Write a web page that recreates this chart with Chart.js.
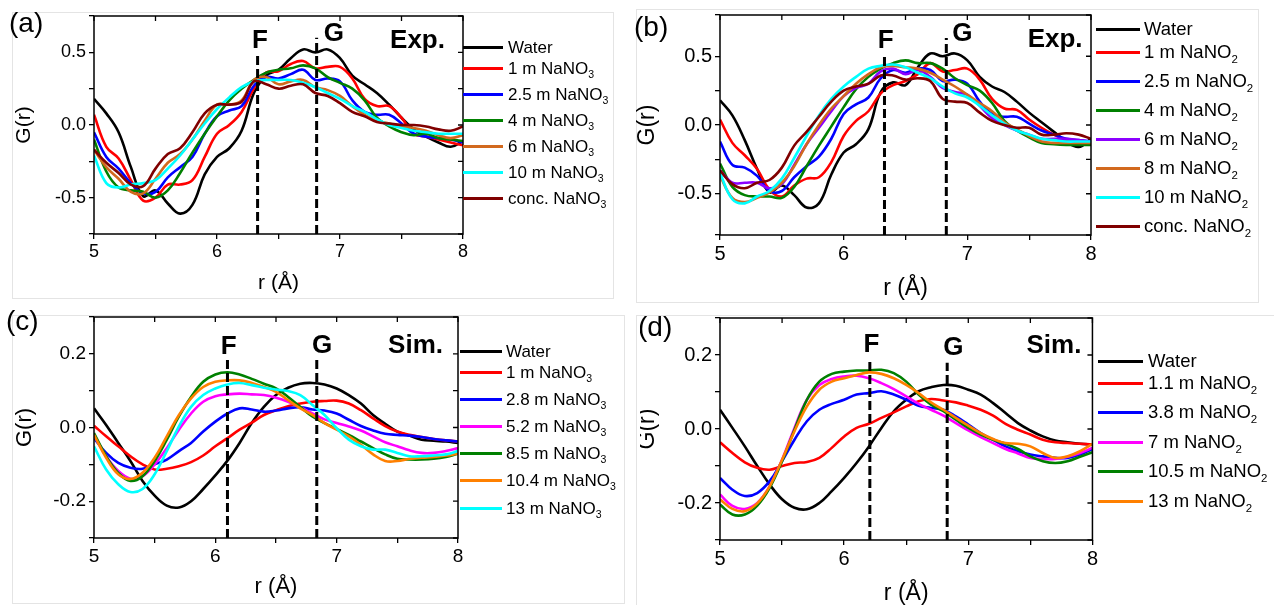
<!DOCTYPE html>
<html>
<head>
<meta charset="utf-8">
<script src="https://cdn.jsdelivr.net/npm/chart.js@4.4.1/dist/chart.umd.min.js"></script>
<style>
  body { margin: 0; background: #fff; width: 1274px; height: 605px; overflow: hidden; position: relative;
         font-family: "Liberation Sans", Arial, sans-serif; }
  .frame { position: absolute; border: 1px solid #e4e4e4; }
  .tag { position: absolute; font-size: 28px; line-height: 28px; color: #000; }
  .row { position: absolute; white-space: nowrap; color: #000; }
  .row .ln { position: absolute; left: 0; height: 3px; }
  .row .tx { position: absolute; top: 0; }
  sub { font-size: 0.62em; line-height: 0; vertical-align: -0.42em; }
  canvas { position: absolute; }
</style>
</head>
<body>
<div class="frame" style="left:12px;top:12px;width:600px;height:285px"></div>
<div class="frame" style="left:636px;top:9px;width:621px;height:292px"></div>
<div class="frame" style="left:12px;top:315px;width:611px;height:287px"></div>
<div class="frame" style="left:636px;top:315px;width:640px;height:292px"></div>

<canvas id="ca" width="480" height="300" style="left:0;top:0"></canvas>
<canvas id="cb" width="470" height="305" style="left:630px;top:0"></canvas>
<canvas id="cc" width="470" height="305" style="left:0;top:300px"></canvas>
<div style="position:absolute;left:640px;top:300px;width:460px;height:305px;overflow:hidden">
  <canvas id="cd" width="472" height="310" style="left:-12px;top:0"></canvas>
  <div class="tag" style="left:-2px;top:13px">(d)</div>
</div>

<div class="tag" style="left:9px;top:9px">(a)</div>
<div class="tag" style="left:634px;top:13px">(b)</div>
<div class="tag" style="left:6px;top:307px">(c)</div>

<script>
const FONT = '"Liberation Sans", Arial, sans-serif';
Chart.defaults.font.family = FONT;

// r values (Å), shared by every curve
const rGrid = [5.0, 5.1, 5.2, 5.3, 5.4, 5.5, 5.6, 5.7, 5.8, 5.9, 6.0, 6.1, 6.2, 6.3, 6.4, 6.5,
               6.6, 6.7, 6.8, 6.9, 7.0, 7.1, 7.2, 7.3, 7.4, 7.5, 7.6, 7.7, 7.8, 7.9, 8.0];

// (a) Exp. NaNO3
const aNames = ["Water", "1 m NaNO3", "2.5 m NaNO3", "4 m NaNO3", "6 m NaNO3", "10 m NaNO3", "conc. NaNO3"];
const aWater = [0.18, 0.08, -0.05, -0.29, -0.49, -0.45, -0.54, -0.61, -0.55, -0.34, -0.22, -0.16, -0.04, 0.22, 0.34, 0.38, 0.46, 0.52, 0.5, 0.52, 0.46, 0.34, 0.28, 0.22, 0.14, 0.05, -0.03, -0.08, -0.12, -0.15, -0.11];
const a1 = [0.07, -0.15, -0.23, -0.38, -0.52, -0.5, -0.41, -0.41, -0.38, -0.22, -0.06, 0.0, 0.09, 0.25, 0.36, 0.37, 0.42, 0.44, 0.39, 0.4, 0.4, 0.32, 0.18, 0.13, 0.13, 0.05, -0.06, -0.08, -0.1, -0.12, -0.14];
const a25 = [-0.05, -0.22, -0.3, -0.4, -0.47, -0.46, -0.36, -0.29, -0.22, -0.06, 0.06, 0.1, 0.13, 0.27, 0.33, 0.32, 0.35, 0.38, 0.31, 0.32, 0.3, 0.17, 0.09, 0.07, 0.07, 0.01, -0.06, -0.08, -0.09, -0.1, -0.12];
const a4 = [-0.1, -0.32, -0.43, -0.45, -0.46, -0.5, -0.45, -0.33, -0.19, -0.06, 0.06, 0.17, 0.25, 0.31, 0.36, 0.38, 0.39, 0.41, 0.39, 0.33, 0.29, 0.25, 0.17, 0.05, -0.01, -0.05, -0.07, -0.06, -0.09, -0.1, -0.11];
const a6 = [-0.17, -0.29, -0.37, -0.46, -0.47, -0.37, -0.26, -0.2, -0.1, 0.03, 0.14, 0.14, 0.17, 0.31, 0.33, 0.28, 0.3, 0.31, 0.26, 0.24, 0.2, 0.13, 0.07, 0.03, 0.01, -0.01, -0.02, -0.04, -0.07, -0.09, -0.07];
const a10 = [-0.21, -0.4, -0.43, -0.41, -0.4, -0.38, -0.3, -0.21, -0.1, 0.01, 0.11, 0.19, 0.26, 0.3, 0.31, 0.31, 0.31, 0.29, 0.26, 0.22, 0.18, 0.13, 0.09, 0.04, 0.0, -0.02, -0.04, -0.05, -0.06, -0.06, -0.06];
const aConc = [-0.17, -0.26, -0.33, -0.41, -0.42, -0.3, -0.2, -0.16, -0.05, 0.08, 0.14, 0.14, 0.16, 0.3, 0.28, 0.25, 0.27, 0.28, 0.22, 0.2, 0.15, 0.09, 0.06, 0.02, 0.01, 0.0, 0.0, -0.01, -0.03, -0.04, -0.01];
const aMarkR = [6.33, 6.81];
const aMarkTop = [0.494, 0.6];
const aTexts = ["F", "G", "Exp."];
const aTextR = [6.35, 6.95, 7.63];
const aTextY = [0.53, 0.576, 0.53];

// (b) Exp. NaNO2
const bNames = ["Water", "1 m NaNO2", "2.5 m NaNO2", "4 m NaNO2", "6 m NaNO2", "8 m NaNO2", "10 m NaNO2", "conc. NaNO2"];
const bWater = [0.18, 0.07, -0.11, -0.32, -0.49, -0.44, -0.51, -0.6, -0.57, -0.36, -0.2, -0.14, -0.03, 0.24, 0.31, 0.29, 0.42, 0.52, 0.5, 0.52, 0.47, 0.35, 0.28, 0.24, 0.17, 0.09, 0.02, -0.05, -0.12, -0.16, -0.1];
const b1 = [0.04, -0.13, -0.22, -0.32, -0.47, -0.52, -0.44, -0.39, -0.38, -0.27, -0.08, 0.03, 0.1, 0.23, 0.29, 0.32, 0.37, 0.45, 0.39, 0.4, 0.41, 0.33, 0.19, 0.12, 0.11, 0.04, -0.02, -0.07, -0.11, -0.13, -0.14];
const b25 = [-0.12, -0.29, -0.31, -0.37, -0.48, -0.48, -0.38, -0.3, -0.23, -0.1, 0.08, 0.15, 0.2, 0.34, 0.4, 0.38, 0.41, 0.4, 0.32, 0.33, 0.3, 0.17, 0.08, 0.06, 0.06, 0.01, -0.04, -0.07, -0.1, -0.11, -0.12];
const b4 = [-0.28, -0.45, -0.51, -0.52, -0.52, -0.53, -0.45, -0.3, -0.15, -0.01, 0.13, 0.26, 0.35, 0.41, 0.45, 0.47, 0.45, 0.45, 0.41, 0.34, 0.29, 0.25, 0.16, 0.03, -0.04, -0.09, -0.13, -0.14, -0.145, -0.145, -0.145];
const b6 = [-0.33, -0.42, -0.42, -0.42, -0.46, -0.43, -0.29, -0.14, -0.02, 0.1, 0.21, 0.27, 0.3, 0.39, 0.41, 0.37, 0.4, 0.35, 0.27, 0.24, 0.22, 0.14, 0.05, 0.0, -0.04, -0.07, -0.1, -0.1, -0.1, -0.11, -0.12];
const b8 = [-0.37, -0.53, -0.56, -0.53, -0.49, -0.42, -0.3, -0.14, 0.0, 0.12, 0.21, 0.3, 0.37, 0.42, 0.43, 0.42, 0.41, 0.38, 0.33, 0.28, 0.22, 0.16, 0.1, 0.02, -0.03, -0.08, -0.12, -0.13, -0.13, -0.13, -0.13];
const b10 = [-0.35, -0.54, -0.57, -0.52, -0.48, -0.39, -0.24, -0.08, 0.07, 0.19, 0.28, 0.35, 0.41, 0.43, 0.44, 0.42, 0.38, 0.34, 0.28, 0.23, 0.2, 0.14, 0.07, 0.01, -0.04, -0.07, -0.1, -0.11, -0.12, -0.12, -0.12];
const bConc = [-0.33, -0.43, -0.46, -0.42, -0.4, -0.31, -0.15, -0.05, 0.06, 0.17, 0.25, 0.28, 0.3, 0.36, 0.36, 0.33, 0.34, 0.32, 0.19, 0.17, 0.16, 0.09, 0.03, 0.0, -0.02, -0.02, -0.07, -0.07, -0.06, -0.07, -0.1];
const bMarkR = [6.33, 6.83];
const bMarkTop = [0.507, 0.633];
const bTexts = ["F", "G", "Exp."];
const bTextR = [6.34, 6.96, 7.71];
const bTextY = [0.558, 0.61, 0.567];

// (c) Sim. NaNO3
const cNames = ["Water", "1 m NaNO3", "2.8 m NaNO3", "5.2 m NaNO3", "8.5 m NaNO3", "10.4 m NaNO3", "13 m NaNO3"];
const cWater = [0.052, 0.007, -0.042, -0.091, -0.145, -0.185, -0.212, -0.217, -0.2, -0.167, -0.13, -0.09, -0.042, 0.012, 0.056, 0.088, 0.108, 0.119, 0.121, 0.117, 0.106, 0.088, 0.065, 0.034, 0.01, -0.011, -0.022, -0.033, -0.036, -0.038, -0.042];
const c1 = [0.005, -0.024, -0.051, -0.078, -0.1, -0.114, -0.112, -0.105, -0.094, -0.076, -0.051, -0.029, -0.006, 0.013, 0.034, 0.047, 0.058, 0.065, 0.07, 0.072, 0.073, 0.065, 0.047, 0.025, 0.004, -0.011, -0.02, -0.026, -0.031, -0.035, -0.038];
const c28 = [-0.029, -0.069, -0.096, -0.109, -0.112, -0.1, -0.087, -0.064, -0.042, -0.011, 0.016, 0.038, 0.052, 0.049, 0.043, 0.046, 0.052, 0.055, 0.049, 0.046, 0.038, 0.021, 0.004, -0.008, -0.017, -0.02, -0.022, -0.026, -0.031, -0.035, -0.038];
const c52 = [-0.02, -0.078, -0.118, -0.139, -0.132, -0.1, -0.056, -0.006, 0.038, 0.07, 0.085, 0.09, 0.092, 0.09, 0.088, 0.081, 0.07, 0.055, 0.038, 0.022, 0.012, 0.003, -0.008, -0.024, -0.04, -0.051, -0.062, -0.069, -0.069, -0.064, -0.056];
const c85 = [-0.015, -0.078, -0.123, -0.145, -0.132, -0.091, -0.033, 0.03, 0.083, 0.124, 0.144, 0.15, 0.144, 0.132, 0.119, 0.106, 0.083, 0.056, 0.03, 0.012, -0.004, -0.02, -0.038, -0.056, -0.073, -0.085, -0.087, -0.087, -0.085, -0.08, -0.071];
const c104 = [-0.02, -0.082, -0.127, -0.14, -0.123, -0.082, -0.024, 0.034, 0.079, 0.11, 0.124, 0.128, 0.128, 0.121, 0.11, 0.097, 0.074, 0.052, 0.034, 0.012, -0.006, -0.024, -0.047, -0.073, -0.091, -0.091, -0.085, -0.082, -0.08, -0.076, -0.071];
const c13 = [-0.051, -0.114, -0.154, -0.175, -0.167, -0.127, -0.064, 0.003, 0.056, 0.088, 0.106, 0.117, 0.121, 0.115, 0.108, 0.103, 0.099, 0.088, 0.061, 0.034, -0.002, -0.033, -0.051, -0.06, -0.06, -0.069, -0.078, -0.078, -0.076, -0.073, -0.064];
const cMarkR = [6.10, 6.836];
const cMarkTop = [0.187, 0.183];
const cTexts = ["F", "G", "Sim."];
const cTextR = [6.11, 6.88, 7.65];
const cTextY = [0.2, 0.202, 0.201];

// (d) Sim. NaNO2
const dNames = ["Water", "1.1 m NaNO2", "3.8 m NaNO2", "7 m NaNO2", "10.5 m NaNO2", "13 m NaNO2"];
const dWater = [0.052, 0.003, -0.047, -0.1, -0.15, -0.19, -0.213, -0.217, -0.2, -0.168, -0.132, -0.092, -0.047, 0.003, 0.048, 0.079, 0.102, 0.113, 0.119, 0.117, 0.106, 0.093, 0.07, 0.043, 0.016, -0.004, -0.02, -0.031, -0.036, -0.04, -0.042];
const d11 = [-0.036, -0.065, -0.09, -0.105, -0.11, -0.1, -0.092, -0.089, -0.078, -0.051, -0.02, 0.003, 0.014, 0.03, 0.045, 0.061, 0.075, 0.081, 0.077, 0.072, 0.063, 0.052, 0.036, 0.014, -0.002, -0.015, -0.029, -0.036, -0.038, -0.04, -0.042];
const d38 = [-0.132, -0.164, -0.181, -0.173, -0.141, -0.087, -0.029, 0.021, 0.052, 0.068, 0.079, 0.093, 0.097, 0.102, 0.093, 0.079, 0.063, 0.057, 0.052, 0.034, 0.012, -0.011, -0.029, -0.047, -0.06, -0.069, -0.074, -0.078, -0.078, -0.069, -0.054];
const d7 = [-0.177, -0.208, -0.216, -0.2, -0.155, -0.083, 0.003, 0.079, 0.119, 0.135, 0.142, 0.144, 0.137, 0.124, 0.108, 0.088, 0.068, 0.052, 0.036, 0.016, -0.004, -0.022, -0.038, -0.054, -0.066, -0.078, -0.081, -0.081, -0.075, -0.065, -0.051];
const d105 = [-0.204, -0.231, -0.231, -0.207, -0.159, -0.087, -0.002, 0.079, 0.128, 0.149, 0.155, 0.158, 0.158, 0.16, 0.151, 0.128, 0.093, 0.066, 0.048, 0.025, 0.003, -0.015, -0.029, -0.04, -0.054, -0.074, -0.087, -0.092, -0.087, -0.075, -0.063];
const d13 = [-0.19, -0.216, -0.222, -0.201, -0.155, -0.083, -0.006, 0.061, 0.106, 0.128, 0.137, 0.146, 0.153, 0.149, 0.137, 0.119, 0.097, 0.072, 0.052, 0.03, 0.009, -0.011, -0.027, -0.038, -0.04, -0.047, -0.065, -0.078, -0.074, -0.06, -0.04];
const dMarkR = [6.207, 6.83];
const dMarkTop = [0.186, 0.179];
const dTexts = ["F", "G", "Sim."];
const dTextR = [6.22, 6.88, 7.69];
const dTextY = [0.208, 0.2, 0.205];

const expColorsA = ["#000000", "#ff0000", "#0000ff", "#008000", "#d2691e", "#00ffff", "#800000"];
const expColorsB = ["#000000", "#ff0000", "#0000ff", "#008000", "#8b00ff", "#d2691e", "#00ffff", "#800000"];
const simColorsC = ["#000000", "#ff0000", "#0000ff", "#ff00ff", "#008000", "#ff8000", "#00ffff"];
const simColorsD = ["#000000", "#ff0000", "#0000ff", "#ff00ff", "#008000", "#ff8000"];

// labels only on the major ticks
const halfLabel = v => Math.abs(v * 2 - Math.round(v * 2)) < 1e-6 ? (Math.abs(v) < 1e-9 ? "0.0" : v.toFixed(1)) : "";
const fifthLabel = v => Math.round(v * 10) % 2 === 0 ? (Math.abs(v) < 1e-9 ? "0.0" : v.toFixed(1)) : "";

const panels = [
  { id: "ca", series: [aWater, a1, a25, a4, a6, a10, aConc], names: aNames, colors: expColorsA,
    markR: aMarkR, markTop: aMarkTop, texts: aTexts, textR: aTextR, textY: aTextY,
    yMin: -0.75, yMax: 0.75, yStep: 0.25, yLabel: halfLabel,
    pad: { left: 0, right: 17, top: 16, bottom: 4 }, yW: 94, xH: 62, tickFs: 18, titleFs: 21, yTitlePad: 12,
    leg: { y0: 47.5, g1: 20.5, g: 26, lineX: 463, lineW: 40, textX: 508, fs: 17 } },
  { id: "cb", series: [bWater, b1, b25, b4, b6, b8, b10, bConc], names: bNames, colors: expColorsB,
    markR: bMarkR, markTop: bMarkTop, texts: bTexts, textR: bTextR, textY: bTextY,
    yMin: -0.8, yMax: 0.8, yStep: 0.25, yLabel: halfLabel,
    pad: { left: 0, right: 9, top: 15, bottom: 3 }, yW: 90, xH: 67, tickFs: 20, titleFs: 23, yTitlePad: 4,
    leg: { y0: 29, g1: 23, g: 29, lineX: 1096, lineW: 44, textX: 1144, fs: 18.5 } },
  { id: "cc", series: [cWater, c1, c28, c52, c85, c104, c13], names: cNames, colors: simColorsC,
    markR: cMarkR, markTop: cMarkTop, texts: cTexts, textR: cTextR, textY: cTextY,
    yMin: -0.3, yMax: 0.3, yStep: 0.1, yLabel: fifthLabel,
    pad: { left: 0, right: 12, top: 17, bottom: 5 }, yW: 94, xH: 62, tickFs: 19, titleFs: 22, yTitlePad: 12,
    leg: { y0: 351, g1: 21, g: 27.2, lineX: 460, lineW: 42, textX: 506, fs: 17 } },
  { id: "cd", series: [dWater, d11, d38, d7, d105, d13], names: dNames, colors: simColorsD,
    markR: dMarkR, markTop: dMarkTop, texts: dTexts, textR: dTextR, textY: dTextY,
    yMin: -0.3, yMax: 0.3, yStep: 0.1, yLabel: fifthLabel,
    pad: { left: 0, right: 7, top: 18, bottom: 3 }, yW: 92, xH: 67, tickFs: 20, titleFs: 23, yTitlePad: 6,
    leg: { y0: 361, g1: 22, g: 29.5, lineX: 1098, lineW: 45, textX: 1148, fs: 18.5 } }
];

// box around the plot, mirrored inward ticks on top/right, and the F / G / Exp. labels
const framePlugin = {
  id: "frame",
  afterDraw(chart, args, opts) {
    const { ctx, chartArea: a, scales: { x, y } } = chart;
    ctx.save();
    ctx.strokeStyle = "#000";
    ctx.lineWidth = 1.5;
    ctx.strokeRect(a.left, a.top, a.right - a.left, a.bottom - a.top);
    ctx.lineWidth = 1.3;
    ctx.beginPath();
    x.ticks.forEach(t => {
      const px = x.getPixelForValue(t.value);
      ctx.moveTo(px, a.top); ctx.lineTo(px, a.top + 5);
    });
    y.ticks.forEach(t => {
      const py = y.getPixelForValue(t.value);
      ctx.moveTo(a.right, py); ctx.lineTo(a.right - 5, py);
    });
    ctx.stroke();
    ctx.fillStyle = "#000";
    ctx.font = 'bold 26px "Liberation Sans", Arial, sans-serif';
    ctx.textAlign = "center";
    ctx.textBaseline = "alphabetic";
    opts.texts.forEach((t, i) => {
      ctx.fillText(t, x.getPixelForValue(opts.textR[i]), y.getPixelForValue(opts.textY[i]));
    });
    ctx.restore();
  }
};

function buildChart(p) {
  const n = p.series.length;
  const datasets = p.series.map((vals, i) => ({
    data: rGrid.map((r, k) => ({ x: r, y: vals[k] })),
    borderColor: p.colors[i],
    borderWidth: 2.6,
    pointRadius: 0,
    tension: 0.4,
    fill: false,
    order: n - i
  }));
  // dashed F and G markers
  p.markR.forEach((r, i) => {
    datasets.push({
      data: [{ x: r, y: p.yMin }, { x: r, y: p.markTop[i] }],
      borderColor: "#000",
      borderWidth: 3,
      borderDash: [9, 4],
      pointRadius: 0,
      tension: 0,
      order: -1
    });
  });

  const tickFont = { size: p.tickFs, family: FONT };
  const titleFont = { size: p.titleFs, family: FONT };
  const grid = { drawOnChartArea: false, drawTicks: true, tickLength: 5, color: "#000", lineWidth: 1.3 };

  new Chart(document.getElementById(p.id), {
    type: "line",
    data: { datasets },
    options: {
      responsive: false,
      animation: false,
      layout: { padding: p.pad },
      plugins: {
        legend: { display: false },
        tooltip: { enabled: false },
        frame: { texts: p.texts, textR: p.textR, textY: p.textY }
      },
      scales: {
        x: {
          type: "linear", min: 5, max: 8,
          afterFit: s => { s.height = p.xH; },
          ticks: {
            stepSize: 0.5, padding: 2, color: "#000", font: tickFont, maxRotation: 0, autoSkip: false,
            callback: v => Math.abs(v - Math.round(v)) < 1e-6 ? String(Math.round(v)) : ""
          },
          grid: grid,
          border: { display: false },
          title: { display: true, text: "r (Å)", color: "#000", font: titleFont, padding: 0 }
        },
        y: {
          type: "linear", min: p.yMin, max: p.yMax,
          afterFit: s => { s.width = p.yW; },
          ticks: { stepSize: p.yStep, padding: 3, color: "#000", font: tickFont, autoSkip: false, callback: p.yLabel },
          grid: grid,
          border: { display: false },
          title: { display: true, text: "G(r)", color: "#000", font: titleFont, padding: { top: p.yTitlePad, bottom: 0 } }
        }
      }
    },
    plugins: [framePlugin]
  });
}

function buildLegend(p) {
  const L = p.leg;
  p.names.forEach((name, i) => {
    const yc = L.y0 + (i === 0 ? 0 : L.g1 + (i - 1) * L.g);
    const row = document.createElement("div");
    row.className = "row";
    row.style.cssText = `left:${L.lineX}px;top:${yc - L.fs / 2}px;height:${L.fs}px;line-height:${L.fs}px;font-size:${L.fs}px;`;
    row.innerHTML =
      `<span class="ln" style="top:${L.fs / 2 - 1.5}px;width:${L.lineW}px;background:${p.colors[i]}"></span>` +
      `<span class="tx" style="left:${L.textX - L.lineX}px">${name.replace(/NaNO(\d)/, "NaNO<sub>$1</sub>")}</span>`;
    document.body.appendChild(row);
  });
}

panels.forEach(p => { buildChart(p); buildLegend(p); });
</script>
</body>
</html>
